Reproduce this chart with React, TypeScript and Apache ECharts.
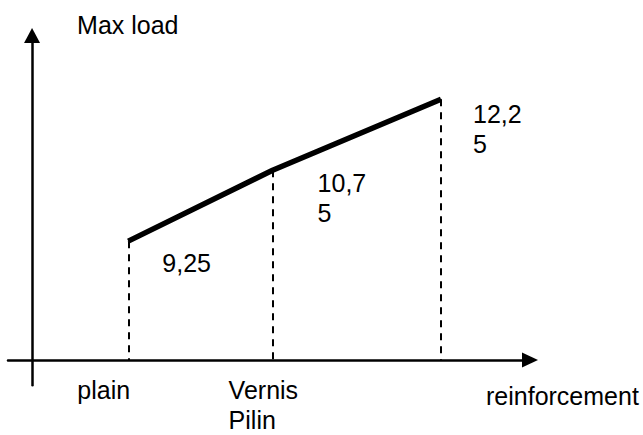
import React, { useEffect, useRef } from 'react';
import * as echarts from 'echarts';

// ---- data ----
const categories = ['plain', 'Vernis\nPilin', ''];
const xPositions = [2, 5, 8.5];
const maxLoad = [9.25, 10.75, 12.25];
const axisTitles = { x: 'reinforcement', y: 'Max load' };

// ---- axis ranges ----
const X_MIN = -0.5;
const X_MAX = 10.35;
const Y_MIN = 6.2;
const Y_MAX = 13.6;
const X_AXIS_AT = 6.73; // y value where the horizontal axis crosses

// ---- layout / style ----
const GRID = { left: 8, top: 35.5, width: 522, height: 353.5 };
const FONT = 'Liberation Sans, Arial, sans-serif';
const FS = 25;
const LH = 30;
const LABEL_OFFSETS = [[34, 7], [45, -2], [32, 0]];
const TICK_LABEL_WIDTHS = [51, 44, 40];

const fmtValue = (v: number) => {
  const s = String(v).replace('.', ',');
  return s.length > 4 ? s.slice(0, 4) + '\n' + s.slice(4) : s;
};

export default function App() {
  const ref = useRef<HTMLDivElement>(null);
  useEffect(() => {
    if (!ref.current) return;
    const chart = echarts.init(ref.current, null, { renderer: 'svg' });
    const xOffset = -((X_AXIS_AT - Y_MIN) / (Y_MAX - Y_MIN)) * GRID.height;
    const rich: Record<string, any> = {};
    TICK_LABEL_WIDTHS.forEach((w, i) => {
      rich['t' + i] = { width: w, align: 'left', fontSize: FS, lineHeight: LH, fontFamily: FONT, color: '#000' };
    });
    const textBase = { fontFamily: FONT, fontSize: FS, lineHeight: LH, color: '#000' };
    chart.setOption({
      animation: false,
      backgroundColor: '#fff',
      grid: { ...GRID, containLabel: false },
      xAxis: {
        type: 'value',
        min: X_MIN,
        max: X_MAX,
        position: 'bottom',
        offset: xOffset,
        name: axisTitles.x,
        nameLocation: 'end',
        nameGap: -44,
        nameTextStyle: { ...textBase, align: 'left', verticalAlign: 'top', padding: [21, 0, 0, 0] },
        axisLine: {
          onZero: false,
          lineStyle: { color: '#000', width: 2.5 },
          symbol: ['none', 'triangle'],
          symbolSize: [15, 16],
        },
        axisTick: { show: false },
        splitLine: { show: false },
        axisLabel: {
          customValues: xPositions.filter((_, i) => categories[i] !== ''),
          margin: 15,
          align: 'right',
          verticalAlign: 'top',
          ...textBase,
          formatter: (v: number) => {
            const i = xPositions.indexOf(v);
            if (i < 0) return '';
            return categories[i].split('\n').map((l) => `{t${i}|${l}}`).join('\n');
          },
          rich,
        },
      },
      yAxis: {
        type: 'value',
        min: Y_MIN,
        max: Y_MAX,
        name: axisTitles.y,
        nameLocation: 'end',
        nameGap: 11,
        nameTextStyle: { ...textBase, align: 'left', verticalAlign: 'middle', padding: [0, 0, 0, 45] },
        axisLine: {
          onZero: true,
          lineStyle: { color: '#000', width: 2.5 },
          symbol: ['none', 'triangle'],
          symbolSize: [16, 15],
        },
        axisTick: { show: false },
        axisLabel: { show: false },
        splitLine: { show: false },
      },
      series: [
        {
          type: 'line',
          data: xPositions.map((x, i) => [x, maxLoad[i]]),
          showSymbol: true,
          symbol: 'circle',
          symbolSize: 1,
          itemStyle: { color: '#000' },
          lineStyle: { color: '#000', width: 5.5 },
          label: {
            show: true,
            ...textBase,
            align: 'left',
            verticalAlign: 'top',
            formatter: (p: any) => fmtValue(p.value[1]),
          },
          labelLayout: (params: any) => {
            const o = LABEL_OFFSETS[params.dataIndex];
            const r = params.rect;
            return { x: r.x + r.width / 2 + o[0], y: r.y + r.height / 2 + o[1], align: 'left', verticalAlign: 'top' };
          },
          markLine: {
            silent: true,
            symbol: ['none', 'none'],
            label: { show: false },
            lineStyle: { color: '#000', type: [7, 6], width: 2 },
            data: xPositions.map((x, i) => [
              { coord: [x, maxLoad[i]] },
              { coord: [x, X_AXIS_AT] },
            ]),
          },
          z: 3,
        },
      ],
    });
    return () => chart.dispose();
  }, []);
  return (
    <div
      ref={ref}
      style={{ position: 'absolute', left: 0, top: 0, width: 643, height: 435, background: '#fff' }}
    />
  );
}
